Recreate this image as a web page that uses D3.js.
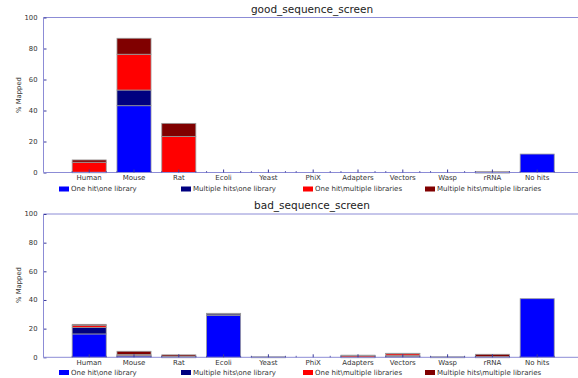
<!DOCTYPE html>
<html>
<head>
<meta charset="utf-8">
<script src="https://cdn.jsdelivr.net/npm/d3@7"></script>
<style>
  html, body { margin: 0; padding: 0; background: #fff; }
  svg { display: block; font-family: "DejaVu Sans", Verdana, sans-serif; }
</style>
</head>
<body>
<svg id="chart" width="578" height="378"></svg>
<script>
// Categories shared by both screens
const categories = ["Human", "Mouse", "Rat", "Ecoli", "Yeast", "PhiX", "Adapters", "Vectors", "Wasp", "rRNA", "No hits"];
const seriesNames = ["One hit\\one library", "Multiple hits\\one library", "One hit\\multiple libraries", "Multiple hits\\multiple libraries"];
const seriesColors = ["#0000ff", "#000080", "#ff0000", "#800000"];
const yTicks = [0, 20, 40, 60, 80, 100];

// good_sequence_screen (% mapped)
const goodOneHitOneLib     = [0.2, 43.1, 0,    0, 0, 0, 0, 0, 0, 0.1, 11.9];
const goodMultiHitsOneLib  = [0,   10.1, 0,    0, 0, 0, 0, 0, 0, 0.1, 0];
const goodOneHitMultiLib   = [6.4, 23.1, 23.3, 0, 0, 0, 0, 0, 0, 0.1, 0];
const goodMultiHitsMultiLib= [1.5, 10.3, 8.4,  0, 0, 0, 0, 0, 0, 0.1, 0];

// bad_sequence_screen (% mapped)
const badOneHitOneLib      = [16.3, 1.0, 0.1, 29.3, 0.1, 0,   0.1, 0.5, 0.1, 0.1, 40.9];
const badMultiHitsOneLib   = [4.5,  0.3, 0.1, 1.2,  0.2, 0,   0.1, 0.7, 0.2, 0.1, 0];
const badOneHitMultiLib    = [1.3,  0.6, 0.5, 0.1,  0,   0,   1.1, 1.5, 0,   0.2, 0];
const badMultiHitsMultiLib = [0.9,  2.3, 1.0, 0.1,  0,   0,   0.2, 0.1, 0,   1.7, 0];

const svg = d3.select("#chart");
const axisColor = "#8c8cd6";
const tickColor = "#3a3a9a";
const textColor = "#333";

function drawPanel(opts) {
  const { title, series, top, bottom, titleY, labelY, legendY } = opts;
  const left = 43.5;

  const rows = categories.map((c, i) => {
    const r = { category: c };
    series.forEach((s, k) => { r["s" + k] = s[i]; });
    return r;
  });
  const keys = series.map((s, k) => "s" + k);
  const stacked = d3.stack().keys(keys)(rows);

  const x = d3.scaleBand()
    .domain(categories)
    .range([66.8, 66.8 + 11 * 44.8])
    .paddingInner(0.24)
    .paddingOuter(0.12);
  const y = d3.scaleLinear().domain([0, 100]).range([bottom, top]);

  const g = svg.append("g");

  // title
  g.append("text")
    .attr("x", 312).attr("y", titleY)
    .attr("text-anchor", "middle")
    .attr("font-size", 10.5)
    .attr("fill", "#222")
    .text(title);

  // top frame line
  g.append("line").attr("x1", left).attr("x2", 590).attr("y1", top).attr("y2", top)
    .attr("stroke", axisColor).attr("stroke-width", 1);

  // stacked bars
  stacked.forEach((layer, k) => {
    g.append("g")
      .selectAll("rect")
      .data(layer.filter(d => d[1] - d[0] > 0))
      .join("rect")
      .attr("x", d => x(d.data.category))
      .attr("width", x.bandwidth())
      .attr("y", d => y(d[1]))
      .attr("height", d => Math.max(0.6, y(d[0]) - y(d[1])))
      .attr("fill", seriesColors[k])
      .attr("stroke", "#9a9a9a")
      .attr("stroke-width", 0.8);
  });

  // y axis
  const yAxis = d3.axisRight(y).tickValues(yTicks).tickSize(3).tickFormat("");
  const ya = g.append("g").attr("transform", `translate(${left},0)`).call(yAxis);
  ya.select(".domain").remove();
  ya.selectAll(".tick line").attr("stroke", tickColor);
  g.append("line").attr("x1", left).attr("x2", left).attr("y1", top).attr("y2", bottom)
    .attr("stroke", axisColor);
  g.append("g").selectAll("text")
    .data(yTicks).join("text")
    .attr("x", left - 6).attr("y", d => y(d) + 2.4)
    .attr("text-anchor", "end")
    .attr("font-size", 6.8)
    .attr("fill", textColor)
    .text(d => d);

  // y label
  g.append("text")
    .attr("transform", `translate(21,${labelY}) rotate(-90)`)
    .attr("text-anchor", "middle")
    .attr("font-size", 6.8)
    .attr("fill", textColor)
    .text("% Mapped");

  // x axis: major ticks at category centres, minor ticks at bar edges
  g.append("line").attr("x1", left).attr("x2", 590).attr("y1", bottom).attr("y2", bottom)
    .attr("stroke", axisColor);
  const xAxis = d3.axisTop(x).tickSize(3).tickFormat("");
  const xa = g.append("g").attr("transform", `translate(0,${bottom})`).call(xAxis);
  xa.select(".domain").remove();
  xa.selectAll(".tick line").attr("stroke", tickColor);
  const edges = categories.flatMap(c => [x(c), x(c) + x.bandwidth()]);
  g.append("g").selectAll("line")
    .data(edges).join("line")
    .attr("x1", d => d).attr("x2", d => d)
    .attr("y1", bottom).attr("y2", bottom - 1.5)
    .attr("stroke", tickColor).attr("stroke-width", 0.8);
  g.append("g").selectAll("text")
    .data(categories).join("text")
    .attr("x", c => x(c) + x.bandwidth() / 2)
    .attr("y", bottom + 7.8)
    .attr("text-anchor", "middle")
    .attr("font-size", 7)
    .attr("fill", textColor)
    .text(c => c);

  // legend
  const legendX = [59, 181, 303, 425];
  const lg = g.append("g").selectAll("g")
    .data(seriesNames).join("g")
    .attr("transform", (d, i) => `translate(${legendX[i]},${legendY})`);
  lg.append("rect").attr("x", 0).attr("y", -2.5).attr("width", 10).attr("height", 5)
    .attr("fill", (d, i) => seriesColors[i]);
  lg.append("text").attr("x", 12).attr("y", 2.4)
    .attr("font-size", 7).attr("fill", textColor)
    .text(d => d);
}

drawPanel({
  title: "good_sequence_screen",
  series: [goodOneHitOneLib, goodMultiHitsOneLib, goodOneHitMultiLib, goodMultiHitsMultiLib],
  top: 17.5, bottom: 172.5, titleY: 13, labelY: 95, legendY: 189
});
drawPanel({
  title: "bad_sequence_screen",
  series: [badOneHitOneLib, badMultiHitsOneLib, badOneHitMultiLib, badMultiHitsMultiLib],
  top: 214, bottom: 357.3, titleY: 209, labelY: 285, legendY: 372.5
});
</script>
</body>
</html>
